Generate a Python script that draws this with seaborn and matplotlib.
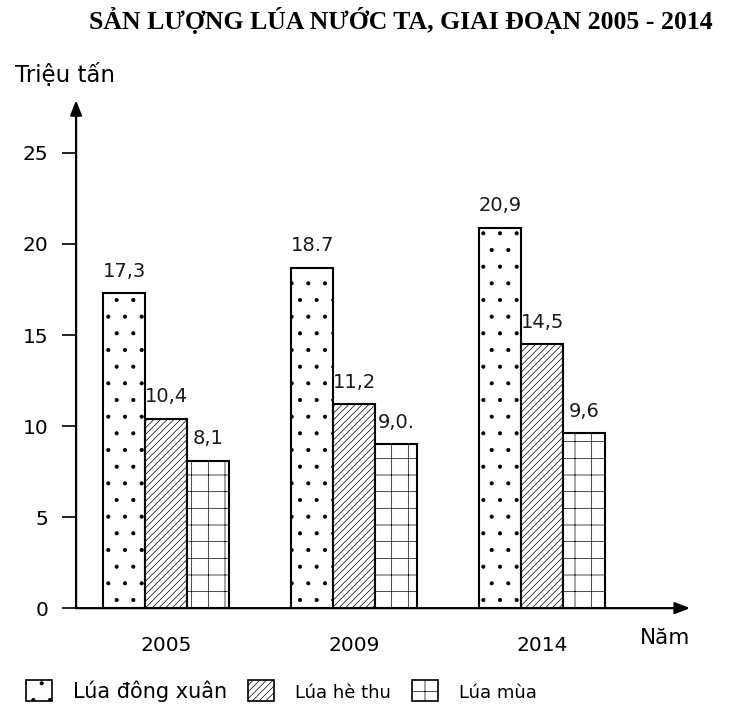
import pandas as pd
import matplotlib
import matplotlib.pyplot as plt
import seaborn as sns
from matplotlib.patches import Patch

years = ["2005", "2009", "2014"]
crops = ["Lúa đông xuân", "Lúa hè thu", "Lúa mùa"]
dong_xuan = [17.3, 18.7, 20.9]
he_thu = [10.4, 11.2, 14.5]
lua_mua = [8.1, 9.0, 9.6]
label_dong_xuan = ["17,3", "18.7", "20,9"]
label_he_thu = ["10,4", "11,2", "14,5"]
label_lua_mua = ["8,1", "9,0.", "9,6"]
yticks = [0, 5, 10, 15, 20, 25]
hatches = [".", "/////", "+"]

df = pd.DataFrame({
    "year": years * 3,
    "crop": [crops[0]] * 3 + [crops[1]] * 3 + [crops[2]] * 3,
    "value": dong_xuan + he_thu + lua_mua,
})
labels = [label_dong_xuan, label_he_thu, label_lua_mua]

sns.set_style("white", {"text.color": "black", "xtick.color": "black",
                        "ytick.color": "black", "axes.labelcolor": "black"})
plt.rcParams["font.family"] = ["DejaVu Sans"]
plt.rcParams["hatch.linewidth"] = 0.5

fig = plt.figure(figsize=(7.46, 7.18), dpi=100)
ax = fig.add_axes([0.102, 0.153, 0.823, 0.7075])

sns.barplot(data=df, x="year", y="value", hue="crop", hue_order=crops,
            order=years, width=0.67, palette=["white"] * 3,
            edgecolor="black", linewidth=1.5, saturation=1, ax=ax, legend=False)

for cont, h, labs in zip(ax.containers, hatches, labels):
    for bar in cont:
        bar.set_hatch(h)
    ax.bar_label(cont, labels=labs, padding=9, fontsize=14, color="#1a1a1a")

ax.set_xlim(-0.479, 2.787)
ax.set_ylim(0, 27.9)
ax.set_yticks(yticks)
ax.set_yticklabels([str(t) for t in yticks], fontsize=14.5)
ax.tick_params(axis="y", direction="out", length=10, width=1.2, pad=10,
               left=True, colors="black")
ax.tick_params(axis="x", length=0, pad=20, labelsize=14.5, colors="black")
ax.set_xlabel("")
ax.set_ylabel("")
for s in ax.spines.values():
    s.set_visible(False)

# axis arrows
ax.annotate("", xy=(1.0, 0), xytext=(0, 0), xycoords="axes fraction",
            arrowprops=dict(arrowstyle="-|>,head_length=0.9,head_width=0.35",
                            color="black", lw=1.6, shrinkA=0, shrinkB=0))
ax.annotate("", xy=(0, 1.0), xytext=(0, 0), xycoords="axes fraction",
            arrowprops=dict(arrowstyle="-|>,head_length=0.9,head_width=0.35",
                            color="black", lw=1.6, shrinkA=0, shrinkB=0))

fig.text(0.02, 0.895, "Triệu tấn", fontsize=16.5, ha="left", va="center")
fig.text(0.858, 0.112, "Năm", fontsize=15.5, ha="left", va="center")
fig.text(0.537, 0.971, "SẢN LƯỢNG LÚA NƯỚC TA, GIAI ĐOẠN 2005 - 2014",
         fontsize=18.5, fontweight="bold", family="Liberation Serif",
         ha="center", va="center", color="black")

handles = [Patch(facecolor="white", edgecolor="black", hatch=h, linewidth=1.2)
           for h in hatches]
leg = fig.legend(handles, crops, loc="center left", bbox_to_anchor=(0.01, 0.038),
                 ncol=3, frameon=False, fontsize=15, handlelength=1.25,
                 handleheight=1.2, columnspacing=1.0, handletextpad=1.0)
for t in leg.get_texts()[1:]:
    t.set_fontsize(13)

fig.savefig("out.png", dpi=100)
